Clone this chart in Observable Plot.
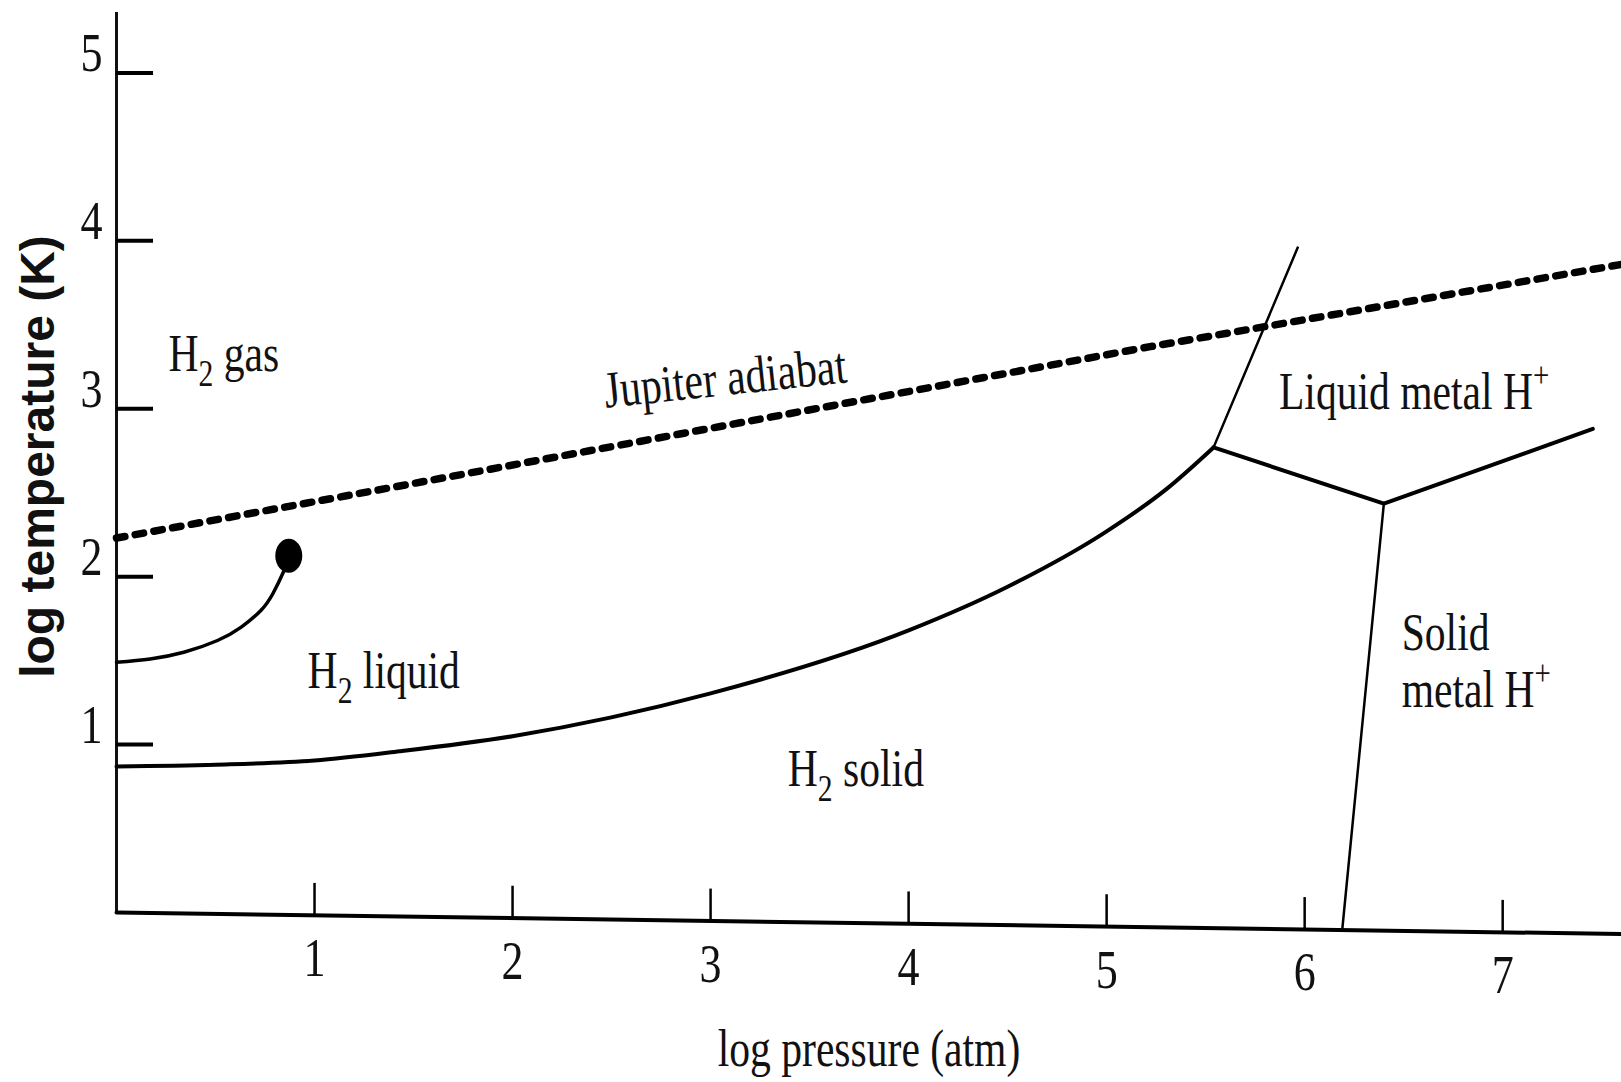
<!DOCTYPE html>
<html><head><meta charset="utf-8">
<script src="https://cdn.jsdelivr.net/npm/d3@7"></script>
<script src="https://cdn.jsdelivr.net/npm/@observablehq/plot@0.6"></script>
<style>html,body{margin:0;padding:0;background:#fff;overflow:hidden}</style>
</head><body><div id="chart"></div>
<script>
// ---- data (log pressure [atm], log temperature [K]) ----
const xTicks = [1, 2, 3, 4, 5, 6, 7];
const yTicks = [1, 2, 3, 4, 5];
const xMax = 7.6;
const yMax = 5.36;
const xAxisDrop = -0.128; // the scanned x axis sags slightly toward the right

const jupiterAdiabat = [
  {p: 0, t: 2.23}, {p: 1.43, t: 2.54}, {p: 5.22, t: 3.37}, {p: 7.6, t: 3.86}
];
const vaporCurve = [
  {p: 0, t: 1.49}, {p: 0.17, t: 1.51}, {p: 0.34, t: 1.55}, {p: 0.51, t: 1.62},
  {p: 0.63, t: 1.70}, {p: 0.73, t: 1.80}, {p: 0.79, t: 1.90}, {p: 0.84, t: 2.02}, {p: 0.87, t: 2.11}
];
const criticalPoint = [{p: 0.87, t: 2.125}];
const meltingCurve = [
  {p: 0, t: 0.87}, {p: 0.5, t: 0.88}, {p: 1, t: 0.905}, {p: 1.43, t: 0.96},
  {p: 2, t: 1.05}, {p: 3, t: 1.305}, {p: 4, t: 1.68}, {p: 4.5, t: 1.94},
  {p: 5, t: 2.27}, {p: 5.3, t: 2.52}, {p: 5.54, t: 2.77}
];
const metalLiquidBoundary = [{p: 5.54, t: 2.77}, {p: 5.965, t: 3.96}];
const molecularMetalBoundary = [{p: 5.54, t: 2.77}, {p: 6.40, t: 2.435}, {p: 7.455, t: 2.88}];
const solidMetalBoundary = [{p: 6.40, t: 2.435}, {p: 6.19, t: -0.10}];

const regionLabels = [
  {text: "H_2 gas", p: 0.263, t: 3.226},
  {text: "H_2 liquid", p: 0.965, t: 1.34},
  {text: "H_2 solid", p: 3.39, t: 0.756},
  {text: "Liquid metal H^+", p: 5.87, t: 3.0},
  {text: "Solid", p: 6.49, t: 1.565},
  {text: "metal H^+", p: 6.49, t: 1.226}
];
const adiabatLabel = [{text: "Jupiter adiabat", p: 2.47, t: 3.006}];
const xLabel = "log pressure (atm)";
const yLabel = "log temperature (K)";

// ---- chart ----
const base = (p) => xAxisDrop * p / xMax;
const xAxisLine = [{p: 0, t: 0}, {p: xMax, t: base(xMax)}];
const serif = "Liberation Serif";

// slightly tall ellipse for the critical point, as in the scan
const ellipseSymbol = {
  draw(ctx) {
    const rx = 13.5, ry = 17, k = 0.5523, kx = rx * k, ky = ry * k;
    ctx.moveTo(rx, 0);
    ctx.bezierCurveTo(rx, ky, kx, ry, 0, ry);
    ctx.bezierCurveTo(-kx, ry, -rx, ky, -rx, 0);
    ctx.bezierCurveTo(-rx, -ky, -kx, -ry, 0, -ry);
    ctx.bezierCurveTo(kx, -ry, rx, -ky, rx, 0);
    ctx.closePath();
  }
};

const svg = Plot.plot({
  width: 1621, height: 1082,
  marginLeft: 116, marginRight: 0, marginTop: 12, marginBottom: 170,
  style: {background: "white", overflow: "visible"},
  x: {domain: [0, xMax], axis: null},
  y: {domain: [0, yMax], axis: null},
  marks: [
    // axes
    Plot.ruleX([0], {y1: 0, y2: yMax, strokeWidth: 3, stroke: "#111"}),
    Plot.ruleY(yTicks, {y: d => d, x1: 0, x2: 0.187, strokeWidth: 4, stroke: "#000"}),
    Plot.text(yTicks, {x: 0, y: d => d, text: d => String(d), dx: -25, dy: -2,
      textAnchor: "middle", lineAnchor: "bottom", fontSize: 55, fontFamily: serif, fill: "#111"}),
    Plot.line(xAxisLine, {x: "p", y: "t", strokeWidth: 4, stroke: "#000"}),
    Plot.ruleX(xTicks, {x: d => d, y1: d => base(d), y2: d => base(d) + 0.19, strokeWidth: 2.5, stroke: "#000"}),
    Plot.text(xTicks, {x: d => d, y: d => base(d), text: d => String(d), dy: 61,
      textAnchor: "middle", lineAnchor: "bottom", fontSize: 55, fontFamily: serif, fill: "#111"}),
    Plot.text([xLabel], {frameAnchor: "bottom", dy: 153, lineAnchor: "bottom", textAnchor: "middle",
      fontSize: 52, fontFamily: serif, fill: "#111"}),
    Plot.text([yLabel], {frameAnchor: "left", dx: -78, dy: -6, rotate: -90, textAnchor: "middle",
      fontSize: 48, fontWeight: "bold", fontFamily: "Liberation Sans", fill: "#111"}),
    // phase curves
    Plot.line(jupiterAdiabat, {x: "p", y: "t", strokeWidth: 7.5, strokeDasharray: "8.5,10.5", stroke: "#000"}),
    Plot.line(vaporCurve, {x: "p", y: "t", curve: "natural", strokeWidth: 3.5, stroke: "#000"}),
    Plot.dot(criticalPoint, {x: "p", y: "t", symbol: ellipseSymbol, fill: "#000", stroke: null}),
    Plot.line(meltingCurve, {x: "p", y: "t", curve: "monotone-x", strokeWidth: 4, stroke: "#000"}),
    Plot.line(metalLiquidBoundary, {x: "p", y: "t", strokeWidth: 2.5, stroke: "#000"}),
    Plot.line(molecularMetalBoundary, {x: "p", y: "t", strokeWidth: 4, stroke: "#000", strokeLinejoin: "miter"}),
    Plot.line(solidMetalBoundary, {x: "p", y: "t", strokeWidth: 2.5, stroke: "#000"}),
    // labels
    Plot.text(regionLabels, {x: "p", y: "t", text: "text", textAnchor: "start", lineAnchor: "bottom",
      fontSize: 52, fontFamily: serif, fill: "#111"}),
    Plot.text(adiabatLabel, {x: "p", y: "t", text: "text", textAnchor: "start", lineAnchor: "bottom",
      rotate: -6, fontSize: 52, fontFamily: serif, fill: "#111"})
  ]
});

// condensed serif lettering and sub/superscripts, as in the original figure
const NS = "http://www.w3.org/2000/svg";
svg.querySelectorAll("text").forEach(t => {
  const g = t.closest("g[font-family]");
  const fam = g ? g.getAttribute("font-family") : "";
  if (fam && fam.includes("Serif")) {
    t.setAttribute("transform", (t.getAttribute("transform") || "") + " scale(0.8,1)");
  }
  const s = t.textContent;
  if (!/[_^]/.test(s)) return;
  t.textContent = "";
  let shift = 0;
  for (const part of s.split(/([_^].)/)) {
    if (!part) continue;
    const ts = document.createElementNS(NS, "tspan");
    if (part[0] === "_") {
      ts.textContent = part[1]; ts.setAttribute("font-size", 37);
      ts.setAttribute("dy", 15 - shift); shift = 15;
    } else if (part[0] === "^") {
      ts.textContent = part[1]; ts.setAttribute("font-size", 36);
      ts.setAttribute("dy", -22 - shift); shift = -22;
    } else {
      ts.textContent = part; ts.setAttribute("dy", -shift); shift = 0;
    }
    t.appendChild(ts);
  }
});
document.getElementById("chart").appendChild(svg);
</script></body></html>
